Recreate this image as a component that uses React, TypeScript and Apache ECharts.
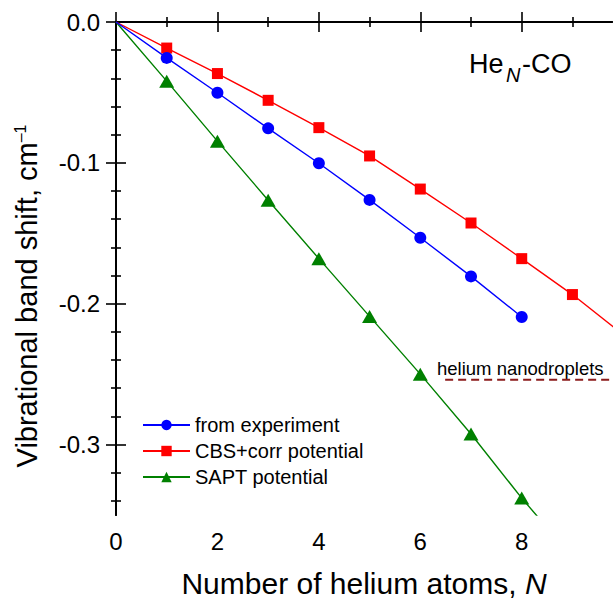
import React, { useEffect, useRef } from "react";
import * as echarts from "echarts";

const N_VALUES = [0, 1, 2, 3, 4, 5, 6, 7, 8];
const experiment = [0, -0.0255, -0.0502, -0.0755, -0.1003, -0.1263, -0.1532, -0.1806, -0.2094];
const cbsN = [0, 1, 2, 3, 4, 5, 6, 7, 8, 9, 10];
const cbsCorr = [0, -0.0185, -0.0366, -0.0556, -0.075, -0.0951, -0.1186, -0.1427, -0.168, -0.1935, -0.222];
const saptN = [0, 1, 2, 3, 4, 5, 6, 7, 8, 9];
const sapt = [0, -0.042, -0.0846, -0.1265, -0.168, -0.209, -0.25, -0.2925, -0.338, -0.38];
const dropletX = [6.49, 9.78];
const dropletShift = -0.254;

const xMajorTicks = [0, 2, 4, 6, 8];
const xMinorTicks = [1, 3, 5, 7, 9];
const yMajorTicks = [0, -0.1, -0.2, -0.3];
const yMinorTicks = [-0.02, -0.04, -0.06, -0.08, -0.12, -0.14, -0.16, -0.18, -0.22, -0.24, -0.26, -0.28, -0.32, -0.34];

const FONT = "'Liberation Sans', Arial, Helvetica, sans-serif";

function pts(xs: number[], ys: number[]) {
  return xs.map((x, i) => (i === 0 ? { value: [x, ys[i]], symbol: "none" } : { value: [x, ys[i]] }));
}

export default function App() {
  const ref = useRef<HTMLDivElement>(null);
  useEffect(() => {
    if (!ref.current) return;
    const chart = echarts.init(ref.current, null, { renderer: "svg" });
    const X_MIN = 0, X_MAX = 9.78, Y_MIN = -0.35, Y_MAX = 0;
    const line = { show: true, lineStyle: { color: "#000", width: 2 } };
    const xAx = (pos: string, major: boolean, main: boolean) => ({
      type: "value",
      gridIndex: 0,
      position: pos,
      min: X_MIN,
      max: X_MAX,
      axisLine: main ? line : { show: false },
      axisTick: {
        show: true,
        inside: true,
        length: major ? 10 : 5,
        customValues: major ? xMajorTicks : xMinorTicks,
        lineStyle: { color: "#000", width: 1.6 },
      },
      axisLabel:
        pos === "bottom" && major
          ? { show: true, customValues: xMajorTicks, fontSize: 24, color: "#000", fontFamily: FONT, margin: 14 }
          : { show: false },
      splitLine: { show: false },
      ...(pos === "bottom" && major
        ? {
            name: "Number of helium atoms, {i|N}",
            nameLocation: "middle",
            nameGap: 53,
            nameTextStyle: {
              fontSize: 30,
              color: "#000",
              fontFamily: FONT,
              rich: { i: { fontSize: 30, fontStyle: "italic", color: "#000", fontFamily: FONT } },
            },
          }
        : {}),
    });
    const yAx = (pos: string, major: boolean, main: boolean) => ({
      type: "value",
      gridIndex: 0,
      position: pos,
      min: Y_MIN,
      max: Y_MAX,
      axisLine: main ? line : { show: false },
      axisTick: {
        show: true,
        inside: true,
        length: major ? 10 : 5,
        customValues: major ? yMajorTicks : yMinorTicks,
        lineStyle: { color: "#000", width: 1.6 },
      },
      axisLabel:
        pos === "left" && major
          ? {
              show: true,
              customValues: yMajorTicks,
              fontSize: 24,
              color: "#000",
              fontFamily: FONT,
              margin: 16,
              formatter: (v: number) => v.toFixed(1),
            }
          : { show: false },
      splitLine: { show: false },
    });

    chart.setOption({
      animation: false,
      backgroundColor: "#fff",
      grid: { left: 116, right: 1, top: 22, bottom: 83, containLabel: false },
      xAxis: [xAx("bottom", true, true), xAx("bottom", false, false), xAx("top", true, true), xAx("top", false, false)],
      yAxis: [yAx("left", true, true), yAx("left", false, false), yAx("right", true, true), yAx("right", false, false)],
      legend: {
        orient: "vertical",
        left: 142,
        top: 415,
        padding: 0,
        itemWidth: 47,
        itemHeight: 13,
        itemGap: 6,
        data: ["from experiment", "CBS+corr potential", "SAPT potential"],
        textStyle: { fontSize: 20, lineHeight: 20, color: "#000", fontFamily: FONT },
      },
      series: [
        {
          name: "from experiment",
          type: "line",
          xAxisIndex: 0,
          yAxisIndex: 0,
          data: pts(N_VALUES, experiment),
          symbol: "circle",
          symbolSize: 12,
          itemStyle: { color: "#0000ff" },
          lineStyle: { color: "#0000ff", width: 1.4 },
          z: 4,
        },
        {
          name: "CBS+corr potential",
          type: "line",
          xAxisIndex: 0,
          yAxisIndex: 0,
          data: pts(cbsN, cbsCorr),
          symbol: "rect",
          symbolSize: 11,
          itemStyle: { color: "#ff0000" },
          lineStyle: { color: "#ff0000", width: 1.4 },
          z: 3,
        },
        {
          name: "SAPT potential",
          type: "line",
          xAxisIndex: 0,
          yAxisIndex: 0,
          data: pts(saptN, sapt),
          symbol: "triangle",
          symbolSize: [15, 13],
          itemStyle: { color: "#008000" },
          lineStyle: { color: "#008000", width: 1.4 },
          z: 2,
        },
        {
          name: "helium nanodroplets",
          type: "line",
          xAxisIndex: 0,
          yAxisIndex: 0,
          data: dropletX.map((x) => [x, dropletShift]),
          symbol: "none",
          lineStyle: { color: "#8b1a1a", width: 2, type: [8, 5] },
          z: 1,
        },
      ],
      graphic: [
        {
          type: "text",
          x: 27,
          y: 296,
          rotation: Math.PI / 2,
          style: {
            text: "Vibrational band shift, cm{sup|–1}",
            fontSize: 29,
            fontFamily: FONT,
            fill: "#000",
            align: "center",
            verticalAlign: "middle",
            rich: {
              sup: { fontSize: 16, fontFamily: FONT, fill: "#000", verticalAlign: "top", lineHeight: 14 },
            },
          },
        },
        {
          type: "text",
          x: 469,
          y: 64,
          style: { text: "He", fontSize: 27, fontFamily: FONT, fill: "#000", align: "left", verticalAlign: "middle" },
        },
        {
          type: "text",
          x: 506,
          y: 75,
          style: {
            text: "N",
            fontSize: 20,
            fontStyle: "italic",
            fontFamily: FONT,
            fill: "#000",
            align: "left",
            verticalAlign: "middle",
          },
        },
        {
          type: "text",
          x: 522,
          y: 64,
          style: { text: "-CO", fontSize: 27, fontFamily: FONT, fill: "#000", align: "left", verticalAlign: "middle" },
        },
        {
          type: "text",
          x: 437,
          y: 368,
          style: {
            text: "helium nanodroplets",
            fontSize: 18.5,
            fontFamily: FONT,
            fill: "#000",
            align: "left",
            verticalAlign: "middle",
          },
        },
      ],
    });
    return () => chart.dispose();
  }, []);
  return (
    <div
      ref={ref}
      style={{ position: "fixed", left: 0, top: 0, width: 613, height: 603, background: "#fff" }}
    />
  );
}
